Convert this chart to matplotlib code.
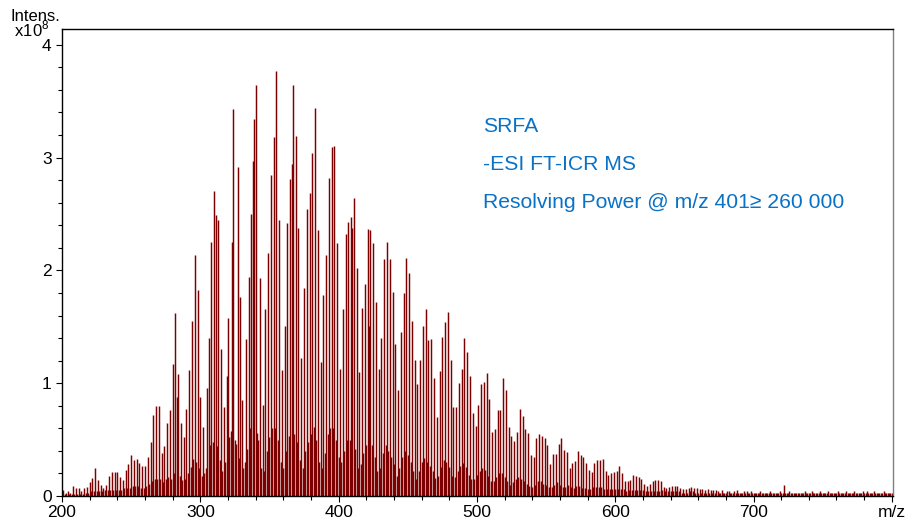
## FT-ICR mass spectrum of SRFA, redrawn from the picture
import numpy as np
import matplotlib
matplotlib.use("Agg")
import matplotlib.pyplot as plt
from matplotlib.ticker import MultipleLocator

plt.rcParams['font.family'] = ['Liberation Sans', 'DejaVu Sans']
plt.rcParams['mathtext.fontset'] = 'custom'
plt.rcParams['mathtext.rm'] = 'Liberation Sans'

# nominal masses of the spectrum, 200 ... 800
mz = np.arange(200, 801)

# low "grass" under the peaks, intensity in 1e8, one value per nominal mass (10 per row)
grass = [
    0.02, 0.03, 0.02, 0.03, 0.02, 0.02, 0.03, 0.02, 0.03, 0.02,   # 200
    0.03, 0.02, 0.03, 0.02, 0.03, 0.02, 0.03, 0.03, 0.02, 0.03,   # 210
    0.03, 0.04, 0.03, 0.04, 0.05, 0.04, 0.03, 0.04, 0.03, 0.04,   # 220
    0.04, 0.05, 0.04, 0.05, 0.06, 0.05, 0.06, 0.05, 0.06, 0.05,   # 230
    0.06, 0.05, 0.06, 0.05, 0.06, 0.07, 0.06, 0.07, 0.08, 0.07,   # 240
    0.08, 0.09, 0.08, 0.09, 0.08, 0.09, 0.08, 0.07, 0.08, 0.07,   # 250
    0.08, 0.09, 0.10, 0.11, 0.12, 0.13, 0.14, 0.15, 0.14, 0.15,   # 260
    0.14, 0.15, 0.13, 0.12, 0.14, 0.15, 0.16, 0.17, 0.16, 0.15,   # 270
    0.18, 0.20, 0.22, 0.21, 0.20, 0.18, 0.16, 0.14, 0.13, 0.15,   # 280
    0.17, 0.20, 0.22, 0.26, 0.30, 0.33, 0.32, 0.30, 0.28, 0.25,   # 290
    0.22, 0.18, 0.16, 0.20, 0.25, 0.30, 0.38, 0.45, 0.50, 0.48,   # 300
    0.47, 0.45, 0.44, 0.40, 0.32, 0.26, 0.22, 0.24, 0.30, 0.36,   # 310
    0.44, 0.52, 0.58, 0.55, 0.52, 0.50, 0.46, 0.40, 0.34, 0.28,   # 320
    0.22, 0.25, 0.30, 0.36, 0.42, 0.52, 0.60, 0.58, 0.55, 0.56,   # 330
    0.58, 0.56, 0.50, 0.40, 0.25, 0.17, 0.22, 0.30, 0.40, 0.45,   # 340
    0.52, 0.56, 0.60, 0.58, 0.60, 0.55, 0.50, 0.42, 0.30, 0.22,   # 350
    0.25, 0.30, 0.40, 0.48, 0.53, 0.60, 0.67, 0.60, 0.55, 0.52,   # 360
    0.48, 0.42, 0.32, 0.22, 0.25, 0.32, 0.40, 0.45, 0.48, 0.50,   # 370
    0.55, 0.60, 0.61, 0.58, 0.50, 0.45, 0.30, 0.22, 0.25, 0.30,   # 380
    0.38, 0.45, 0.55, 0.58, 0.60, 0.62, 0.60, 0.55, 0.50, 0.42,   # 390
    0.35, 0.25, 0.30, 0.35, 0.40, 0.45, 0.50, 0.53, 0.50, 0.48,   # 400
    0.52, 0.48, 0.42, 0.35, 0.25, 0.22, 0.28, 0.32, 0.38, 0.42,   # 410
    0.45, 0.47, 0.45, 0.42, 0.45, 0.40, 0.35, 0.30, 0.22, 0.20,   # 420
    0.25, 0.32, 0.38, 0.42, 0.45, 0.42, 0.40, 0.38, 0.35, 0.30,   # 430
    0.28, 0.22, 0.18, 0.20, 0.25, 0.30, 0.35, 0.38, 0.40, 0.38,   # 440
    0.36, 0.34, 0.30, 0.26, 0.22, 0.18, 0.15, 0.18, 0.22, 0.26,   # 450
    0.30, 0.32, 0.34, 0.33, 0.30, 0.28, 0.27, 0.25, 0.22, 0.20,   # 460
    0.16, 0.15, 0.18, 0.22, 0.26, 0.30, 0.32, 0.31, 0.30, 0.28,   # 470
    0.26, 0.22, 0.18, 0.16, 0.17, 0.19, 0.22, 0.25, 0.27, 0.28,   # 480
    0.29, 0.28, 0.26, 0.22, 0.19, 0.16, 0.15, 0.14, 0.15, 0.17,   # 490
    0.19, 0.21, 0.22, 0.24, 0.25, 0.24, 0.23, 0.21, 0.18, 0.15,   # 500
    0.13, 0.12, 0.13, 0.15, 0.17, 0.19, 0.20, 0.21, 0.20, 0.18,   # 510
    0.17, 0.15, 0.13, 0.11, 0.10, 0.11, 0.12, 0.14, 0.15, 0.16,   # 520
    0.17, 0.16, 0.15, 0.14, 0.13, 0.12, 0.11, 0.10, 0.09, 0.08,   # 530
    0.08, 0.09, 0.10, 0.12, 0.13, 0.14, 0.13, 0.12, 0.11, 0.10,   # 540
    0.10, 0.09, 0.08, 0.07, 0.08, 0.09, 0.10, 0.11, 0.12, 0.11,   # 550
    0.10, 0.09, 0.08, 0.07, 0.08, 0.09, 0.10, 0.09, 0.08, 0.07,   # 560
    0.07, 0.08, 0.09, 0.10, 0.09, 0.08, 0.07, 0.08, 0.07, 0.06,   # 570
    0.06, 0.07, 0.06, 0.07, 0.08, 0.09, 0.08, 0.07, 0.08, 0.07,   # 580
    0.08, 0.07, 0.06, 0.07, 0.06, 0.05, 0.06, 0.05, 0.06, 0.07,   # 590
    0.06, 0.07, 0.06, 0.07, 0.06, 0.05, 0.06, 0.05, 0.04, 0.05,   # 600
    0.05, 0.04, 0.05, 0.06, 0.05, 0.06, 0.05, 0.04, 0.05, 0.04,   # 610
    0.05, 0.04, 0.04, 0.05, 0.04, 0.05, 0.04, 0.05, 0.04, 0.05,   # 620
    0.04, 0.05, 0.04, 0.04, 0.05, 0.04, 0.04, 0.03, 0.04, 0.03,   # 630
    0.04, 0.03, 0.04, 0.03, 0.04, 0.03, 0.04, 0.03, 0.03, 0.04,   # 640
    0.03, 0.04, 0.03, 0.03, 0.04, 0.03, 0.04, 0.03, 0.03, 0.04,   # 650
    0.03, 0.04, 0.03, 0.04, 0.03, 0.05, 0.03, 0.04, 0.03, 0.04,   # 660
    0.03, 0.04, 0.03, 0.03, 0.04, 0.03, 0.03, 0.04, 0.03, 0.03,   # 670
    0.03, 0.03, 0.04, 0.03, 0.03, 0.03, 0.04, 0.03, 0.03, 0.03,   # 680
    0.03, 0.03, 0.03, 0.04, 0.03, 0.03, 0.03, 0.03, 0.04, 0.03,   # 690
    0.03, 0.03, 0.03, 0.03, 0.03, 0.04, 0.03, 0.03, 0.03, 0.03,   # 700
    0.03, 0.03, 0.04, 0.03, 0.03, 0.03, 0.03, 0.03, 0.03, 0.04,   # 710
    0.03, 0.03, 0.03, 0.03, 0.03, 0.03, 0.04, 0.03, 0.03, 0.03,   # 720
    0.03, 0.03, 0.03, 0.03, 0.03, 0.03, 0.03, 0.04, 0.03, 0.03,   # 730
    0.03, 0.03, 0.04, 0.03, 0.03, 0.03, 0.03, 0.03, 0.04, 0.03,   # 740
    0.03, 0.03, 0.03, 0.03, 0.04, 0.03, 0.03, 0.03, 0.03, 0.03,   # 750
    0.03, 0.04, 0.03, 0.03, 0.03, 0.03, 0.03, 0.04, 0.03, 0.03,   # 760
    0.03, 0.03, 0.03, 0.04, 0.03, 0.03, 0.03, 0.03, 0.03, 0.04,   # 770
    0.03, 0.03, 0.04, 0.03, 0.03, 0.03, 0.03, 0.04, 0.03, 0.03,   # 780
    0.03, 0.03, 0.03, 0.03, 0.04, 0.03, 0.03, 0.03, 0.03, 0.03,   # 790
    0.03,                                                         # 800
]

# the taller peaks (m/z, intensity in 1e8)
peak_mz = [
    201, 204, 208, 210, 212, 214, 216, 218, 220, 222, 224, 226, 228, 230,
    232, 234, 236, 238, 240, 242, 244, 246, 248, 250, 252, 254, 256, 258,
    260, 262, 264, 266, 268, 270,
    272, 274, 276, 278, 280, 282, 283, 284, 286, 288, 290, 292, 294, 296,
    298, 300, 302, 305, 306, 308, 310, 311, 313, 315, 317, 319, 320, 323,
    324, 327, 329, 330, 333, 335, 337,
    338, 339, 340, 343, 345, 347, 349, 351, 353, 355, 357, 359, 361, 363,
    365, 366, 367, 369, 371, 373, 375, 377, 379, 381, 383, 385, 387, 389,
    391, 393, 395, 397, 399, 401,
    403, 405, 407, 409, 410, 411, 413, 415, 417, 419, 421, 422, 423, 425,
    427, 429, 431, 433, 435, 437, 439, 441, 443, 445, 447, 449, 451, 453,
    455, 457, 459, 461, 463, 465, 467,
    469, 471, 473, 475, 477, 479, 481, 483, 485, 487, 489, 491, 493, 495,
    497, 499, 501, 503, 505, 507, 509, 511, 513, 515, 517, 519, 521, 523,
    525, 527, 529, 531,
    533, 535, 537, 539, 541, 543, 545, 547, 549, 551, 553, 555, 557, 559,
    561, 563, 565, 567, 569, 571, 573, 575, 577, 579, 581, 583, 585, 587,
    589, 591, 593, 595, 597, 599, 601, 603,
    605, 607, 609, 611, 613, 615, 617, 619, 621, 623, 625, 627, 629, 631,
    633, 635, 637, 639, 641, 643, 645, 647, 649, 651, 653, 655, 657, 659,
    661, 663, 665, 667, 669, 671, 673, 677, 681, 688, 695, 722,
]
peak_int = [
    0.05, 0.04, 0.09, 0.07, 0.07, 0.04, 0.07, 0.08, 0.12, 0.16, 0.25, 0.14, 0.10, 0.07,
    0.10, 0.18, 0.21, 0.21, 0.21, 0.17, 0.14, 0.23, 0.28, 0.36, 0.32, 0.33, 0.29, 0.27,
    0.27, 0.35, 0.48, 0.72, 0.80, 0.80,
    0.38, 0.44, 0.65, 0.76, 1.17, 1.62, 0.88, 1.08, 0.65, 0.52, 0.77, 1.12, 1.55, 2.14,
    1.83, 0.88, 0.61, 0.96, 1.40, 2.25, 2.70, 2.49, 2.45, 1.30, 0.79, 1.06, 1.58, 2.25,
    3.43, 2.92, 1.76, 0.85, 1.39, 1.94, 2.50,
    2.97, 3.34, 3.64, 1.93, 0.81, 1.66, 2.15, 2.85, 3.18, 3.77, 2.45, 1.12, 1.51, 2.42,
    2.81, 2.94, 3.64, 3.19, 2.38, 1.22, 1.84, 2.54, 2.69, 3.04, 3.44, 2.36, 1.19, 1.78,
    2.14, 2.82, 3.09, 3.10, 2.24, 1.13,
    1.66, 2.32, 2.43, 2.47, 2.38, 2.64, 2.02, 1.10, 1.67, 1.88, 2.37, 1.51, 2.36, 2.24,
    1.72, 1.13, 1.40, 2.10, 2.25, 2.10, 1.81, 1.35, 0.94, 1.45, 1.80, 2.11, 1.98, 1.55,
    1.21, 0.99, 1.21, 1.51, 1.66, 1.38, 1.39,
    1.05, 0.70, 1.11, 1.41, 1.54, 1.63, 1.21, 0.79, 0.79, 1.00, 1.13, 1.40, 1.28, 1.06,
    0.74, 0.62, 0.81, 0.99, 1.01, 1.09, 0.86, 0.57, 0.59, 0.76, 0.76, 1.05, 0.94, 0.61,
    0.53, 0.49, 0.57, 0.77,
    0.71, 0.59, 0.56, 0.36, 0.35, 0.51, 0.55, 0.53, 0.51, 0.45, 0.28, 0.37, 0.37, 0.46,
    0.51, 0.41, 0.39, 0.25, 0.29, 0.31, 0.40, 0.36, 0.35, 0.29, 0.23, 0.21, 0.29, 0.32,
    0.32, 0.33, 0.22, 0.19, 0.20, 0.21, 0.22, 0.27,
    0.20, 0.13, 0.13, 0.14, 0.19, 0.18, 0.17, 0.15, 0.11, 0.09, 0.11, 0.13, 0.14, 0.14,
    0.13, 0.08, 0.07, 0.08, 0.09, 0.09, 0.09, 0.07, 0.06, 0.06, 0.07, 0.08, 0.07, 0.07,
    0.06, 0.06, 0.05, 0.06, 0.05, 0.05, 0.05, 0.05, 0.04, 0.05, 0.04, 0.10,
]

notes = ["SRFA", "-ESI FT-ICR MS", "Resolving Power @ m/z 401\u2265 260 000"]

intens = np.array(grass)
idx = np.array(peak_mz) - mz[0]
intens[idx] = np.maximum(intens[idx], peak_int)

fig = plt.figure(figsize=(9.06, 5.21), dpi=100)
ax = fig.add_axes([62 / 906, 25 / 521, 830.5 / 906, 467 / 521])

ax.vlines(mz, 0, intens, colors='#7d0000', linewidth=1.05)

ax.set_xlim(200, 800.5)
ax.set_ylim(0, 4.14)

ax.set_xticks(range(200, 801, 100))
ax.set_xticklabels(['200', '300', '400', '500', '600', '700', 'm/z'])
ax.xaxis.set_minor_locator(MultipleLocator(20))
ax.set_yticks([0, 1, 2, 3, 4])
ax.yaxis.set_minor_locator(MultipleLocator(0.2))

ax.tick_params(which='both', direction='out', width=0.8, labelsize=12.5, colors='black')
ax.tick_params(which='major', length=4.5)
ax.tick_params(which='minor', length=3)
ax.tick_params(axis='x', pad=2)
ax.tick_params(axis='y', pad=3)

for s in ax.spines.values():
    s.set_linewidth(1.0)
ax.spines['right'].set_color('0.5')

# axis caption in the top left corner, both lines in one text
fig.text(10 / 906, 1 - 9 / 521, "Intens.\n x10$^{8}$", fontsize=12, va='top', ha='left',
         linespacing=0.72)

for i, t in enumerate(notes):
    ax.text(0.5328, 0.7472 - i * 0.0735, t, transform=fig.transFigure,
            fontsize=15.2, color='#0a72c6', va='baseline', ha='left')

fig.savefig("out.png", dpi=100)
